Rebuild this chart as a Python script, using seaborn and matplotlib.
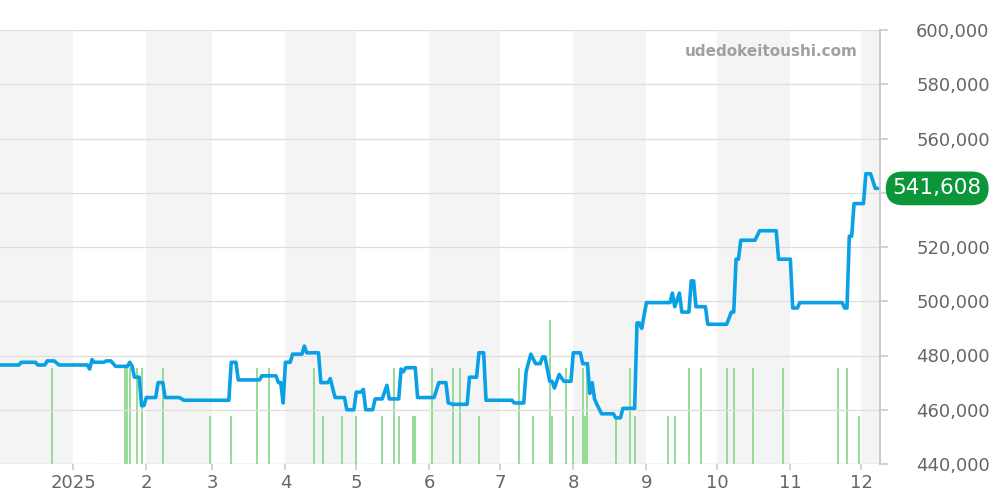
import pandas as pd
import matplotlib.pyplot as plt
import matplotlib.transforms as mtransforms
import seaborn as sns

# price history (step-like market price, JPY)
price_dates = [
    "2024-12-01", "2024-12-09", "2024-12-10", "2024-12-16", "2024-12-17", "2024-12-20",
    "2024-12-21", "2024-12-24", "2024-12-26", "2025-01-07", "2025-01-08", "2025-01-09",
    "2025-01-10", "2025-01-14", "2025-01-15", "2025-01-17", "2025-01-19", "2025-01-24",
    "2025-01-25", "2025-01-26", "2025-01-27", "2025-01-29", "2025-01-30", "2025-01-31",
    "2025-02-01", "2025-02-05", "2025-02-06", "2025-02-08", "2025-02-09", "2025-02-15",
    "2025-02-17", "2025-03-08", "2025-03-09", "2025-03-11", "2025-03-12", "2025-03-21",
    "2025-03-22", "2025-03-28", "2025-03-29", "2025-03-30", "2025-03-31", "2025-04-01",
    "2025-04-03", "2025-04-04", "2025-04-08", "2025-04-09", "2025-04-10", "2025-04-15",
    "2025-04-16", "2025-04-19", "2025-04-20", "2025-04-22", "2025-04-26", "2025-04-27",
    "2025-04-30", "2025-05-01", "2025-05-03", "2025-05-04", "2025-05-05", "2025-05-08",
    "2025-05-09", "2025-05-12", "2025-05-14", "2025-05-15", "2025-05-19", "2025-05-20",
    "2025-05-21", "2025-05-22", "2025-05-26", "2025-05-27", "2025-06-03", "2025-06-05",
    "2025-06-08", "2025-06-09", "2025-06-11", "2025-06-17", "2025-06-18", "2025-06-21",
    "2025-06-22", "2025-06-24", "2025-06-25", "2025-07-06", "2025-07-07", "2025-07-11",
    "2025-07-12", "2025-07-14", "2025-07-16", "2025-07-18", "2025-07-19", "2025-07-20",
    "2025-07-22", "2025-07-23", "2025-07-24", "2025-07-26", "2025-07-28", "2025-07-31",
    "2025-08-01", "2025-08-04", "2025-08-05", "2025-08-07", "2025-08-08", "2025-08-09",
    "2025-08-10", "2025-08-11", "2025-08-13", "2025-08-18", "2025-08-19", "2025-08-21",
    "2025-08-22", "2025-08-27", "2025-08-28", "2025-08-29", "2025-08-30", "2025-09-01",
    "2025-09-11", "2025-09-12", "2025-09-13", "2025-09-15", "2025-09-16", "2025-09-19",
    "2025-09-20", "2025-09-21", "2025-09-22", "2025-09-26", "2025-09-27", "2025-10-05",
    "2025-10-07", "2025-10-08", "2025-10-09", "2025-10-10", "2025-10-11", "2025-10-17",
    "2025-10-19", "2025-10-26", "2025-10-27", "2025-11-01", "2025-11-02", "2025-11-04",
    "2025-11-05", "2025-11-23", "2025-11-24", "2025-11-25", "2025-11-26", "2025-11-27",
    "2025-11-28", "2025-12-02", "2025-12-03", "2025-12-05", "2025-12-07", "2025-12-08",
]
price_values = [
    476500, 476500, 477500, 477500, 476500, 476500,
    478000, 478000, 476500, 476500, 475000, 478500,
    477500, 477500, 478000, 478000, 476000, 476000,
    477500, 476000, 472000, 472000, 461500, 461500,
    464500, 464500, 470000, 470000, 464500, 464500,
    463500, 463500, 477500, 477500, 471000, 471000,
    472500, 472500, 470000, 470000, 462500, 477500,
    477500, 480500, 480500, 483500, 481000, 481000,
    470000, 470000, 471500, 464500, 464500, 460000,
    460000, 466500, 466500, 467500, 460000, 460000,
    464000, 464000, 469000, 464000, 464000, 475000,
    474000, 475500, 475500, 464500, 464500, 470000,
    470000, 462500, 462000, 462000, 472000, 472000,
    481000, 481000, 463500, 463500, 462500, 462500,
    474000, 480500, 477000, 477000, 479500, 479500,
    470500, 470500, 468000, 473000, 470500, 470500,
    481000, 481000, 477000, 477000, 466000, 470000,
    464000, 462000, 458500, 458500, 457000, 457000,
    460500, 460500, 492000, 492000, 490000, 499500,
    499500, 503000, 498000, 503000, 496000, 496000,
    507500, 507500, 498000, 498000, 491500, 491500,
    496000, 496000, 515500, 515500, 522500, 522500,
    526000, 526000, 515500, 515500, 497500, 497500,
    499500, 499500, 497500, 497500, 524000, 524000,
    536000, 536000, 547000, 547000, 541608, 541608,
]

# number of trades per day
volume_dates = [
    "2024-12-23", "2025-01-23", "2025-01-24", "2025-01-25", "2025-01-28", "2025-01-30",
    "2025-02-08", "2025-02-28", "2025-03-09", "2025-03-20", "2025-03-25", "2025-04-13",
    "2025-04-17", "2025-04-25", "2025-05-01", "2025-05-12", "2025-05-17", "2025-05-19",
    "2025-05-25", "2025-05-26", "2025-06-02", "2025-06-11", "2025-06-14", "2025-06-22",
    "2025-07-09", "2025-07-15", "2025-07-22", "2025-07-23", "2025-07-29", "2025-08-01",
    "2025-08-05", "2025-08-06", "2025-08-07", "2025-08-19", "2025-08-25", "2025-08-27",
    "2025-09-10", "2025-09-13", "2025-09-19", "2025-09-24", "2025-10-05", "2025-10-08",
    "2025-10-16", "2025-10-29", "2025-11-21", "2025-11-25", "2025-11-30",
]
volume_counts = [
    2, 2, 2, 2, 2, 2,
    2, 1, 1, 2, 2, 2,
    1, 1, 1, 1, 2, 1,
    1, 1, 2, 2, 2, 1,
    2, 1, 3, 1, 2, 1,
    2, 1, 2, 1, 2, 1,
    1, 1, 2, 2, 2, 2,
    2, 2, 2, 2, 1,
]

month_starts = ["2024-12-01", "2025-01-01", "2025-02-01", "2025-03-01", "2025-04-01",
                "2025-05-01", "2025-06-01", "2025-07-01", "2025-08-01", "2025-09-01",
                "2025-10-01", "2025-11-01", "2025-12-01", "2026-01-01"]
month_labels = ["2025", "2", "3", "4", "5", "6", "7", "8", "9", "10", "11", "12"]

price = pd.DataFrame({"date": pd.to_datetime(price_dates), "price": price_values})
volume = pd.DataFrame({"date": pd.to_datetime(volume_dates), "count": volume_counts})
months = pd.to_datetime(month_starts)

sns.set_theme(style="white")
plt.rcParams["font.family"] = ["DejaVu Sans"]

fig = plt.figure(figsize=(10, 5), dpi=100)
ax2 = fig.add_axes([0, 0.072, 0.88, 0.868])
ax = ax2.twinx()
ax.set_zorder(ax2.get_zorder() + 1)
ax.patch.set_visible(False)

x_min, x_max = pd.Timestamp("2024-12-01"), pd.Timestamp("2025-12-09")

# alternating month bands
for i in range(len(months) - 1):
    if i % 2 == 0:
        ax2.axvspan(months[i], min(months[i + 1], x_max), color="#f4f4f4", lw=0, zorder=0)

ax2.vlines(volume["date"], 0, volume["count"], color="#8fd88f", lw=1.3, zorder=2)
ax2.axhline(0, color="#bbbbbb", lw=1, ls=":", zorder=3)
ax2.set_ylim(0, 9.05)
ax2.set_yticks([])

sns.lineplot(data=price, x="date", y="price", ax=ax, color="#0aa0e6", lw=2.6)
ax.set_ylim(440000, 600000)
ax.set_yticks(range(440000, 600001, 20000))
ax.set_yticklabels([f"{v:,}" for v in range(440000, 600001, 20000)])
ax.yaxis.tick_right()
ax.tick_params(axis="y", colors="#666666", labelsize=13, length=6, color="#cccccc", pad=20)
for v in range(440000, 600001, 20000):
    ax.axhline(v, color="#dddddd", lw=0.9, zorder=1)
ax.set_xlabel("")
ax.set_ylabel("")

ax2.set_xlim(x_min, x_max)
ax2.set_xticks(months[1:13])
ax2.set_xticklabels(month_labels)
ax2.tick_params(axis="x", bottom=True, labelbottom=True, colors="#666666",
                labelsize=13, length=4, color="#cccccc")
ax.tick_params(axis="x", bottom=False, labelbottom=False)
for a in (ax, ax2):
    for side in ["top", "left", "bottom"]:
        a.spines[side].set_visible(False)
    a.spines["right"].set_color("#cccccc")

last = price_values[-1]
trans = mtransforms.blended_transform_factory(ax.transAxes, ax.transData)
badge = ax.text(1.065, last, f"{last:,}", transform=trans, ha="center", va="center",
                color="white", fontsize=15.5, clip_on=False, zorder=10,
                bbox=dict(boxstyle="round,pad=0.32,rounding_size=0.8", fc="#0a9639", ec="none"))
ax.text(0.975, 0.95, "udedokeitoushi.com", transform=ax.transAxes, ha="right",
        va="center", color="#a0a0a0", fontsize=11, fontweight="bold")

# the badge sits on top of the 540,000 label, as in the original
for lbl in ax.get_yticklabels():
    if lbl.get_text() == "540,000":
        lbl.set_visible(False)

fig.savefig("out.png")
